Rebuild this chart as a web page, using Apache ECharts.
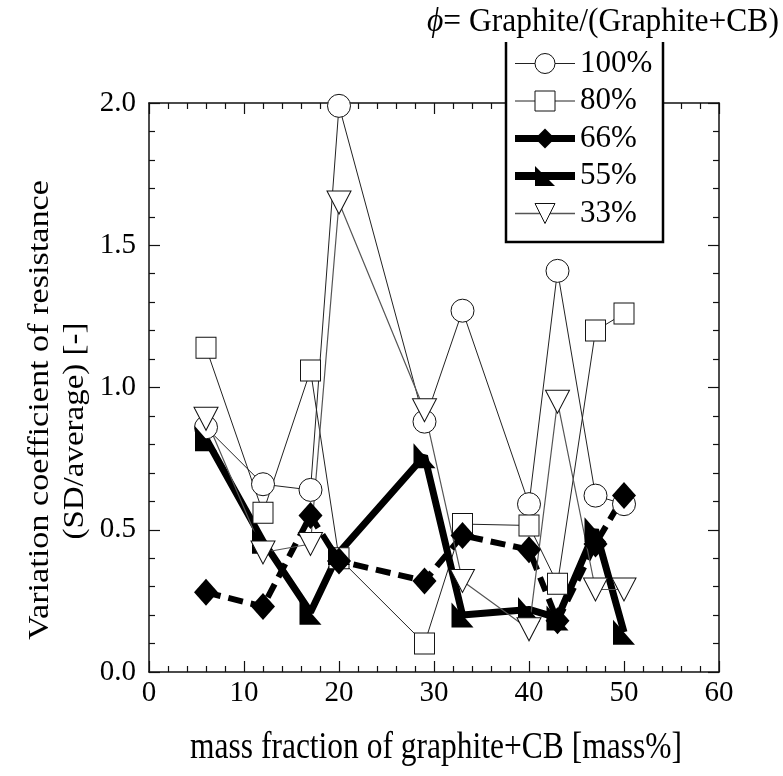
<!DOCTYPE html>
<html>
<head>
<meta charset="utf-8">
<script src="https://cdn.jsdelivr.net/npm/echarts@6/dist/echarts.min.js"></script>
<style>html,body{margin:0;padding:0;background:#fff}#c{width:783px;height:776px}</style>
</head>
<body>
<div id="c"></div>
<script>
const xVals = [6, 12, 17, 20, 29, 33, 40, 43, 47, 50];
const p100 = [0.86, 0.66, 0.64, 1.99, 0.88, 1.27, 0.59, 1.41, 0.62, 0.59];
const p80  = [1.14, 0.56, 1.06, 0.40, 0.10, 0.52, 0.515, 0.31, 1.20, 1.26];
const p66  = [0.28, 0.23, 0.55, 0.39, 0.32, 0.48, 0.43, 0.18, 0.45, 0.62];
const p55  = [0.82, 0.46, 0.21, 0.42, 0.76, 0.20, 0.22, 0.19, 0.50, 0.14];
const p33  = [0.89, 0.42, 0.45, 1.65, 0.92, 0.32, 0.15, 0.95, 0.29, 0.29];
const seriesNames = ['100%', '80%', '66%', '55%', '33%'];
const xTitle = 'mass fraction of graphite+CB [mass%]';
const yTitle1 = 'Variation coefficient of resistance';
const yTitle2 = '(SD/average) [-]';
const legendTitleSym = 'ϕ';
const legendTitleText = '= Graphite/(Graphite+CB)';

const FONT = "'Liberation Serif', 'Times New Roman', serif";
const pairs = arr => xVals.map((x, i) => [x, arr[i]]);
const tri55 = 'path://M0,0L0,10L10,10Z';

function axisCommon(showLabel, pos) {
  return {
    type: 'value', position: pos,
    axisLine: { show: true, onZero: false, lineStyle: { color: '#111', width: 1.5 } },
    axisTick: { show: true, inside: true, length: 11, lineStyle: { color: '#111', width: 1.2 } },
    minorTick: { show: true, splitNumber: 5, length: 6, lineStyle: { color: '#111', width: 1.2 } },
    splitLine: { show: false },
    axisLabel: { show: showLabel, color: '#000', fontSize: 29, fontFamily: FONT }
  };
}

const chart = echarts.init(document.getElementById('c'), null, { renderer: 'canvas' });
const xa0 = Object.assign(axisCommon(true, 'bottom'), { min: 0, max: 60, interval: 10 });
xa0.axisLabel.margin = 7;
const xa1 = Object.assign(axisCommon(false, 'top'), { min: 0, max: 60, interval: 10 });
const ya0 = Object.assign(axisCommon(true, 'left'), { min: 0, max: 2, interval: 0.5 });
ya0.axisLabel.formatter = v => v.toFixed(1);
ya0.axisLabel.margin = 13;
const ya1 = Object.assign(axisCommon(false, 'right'), { min: 0, max: 2, interval: 0.5 });

const option = {
  backgroundColor: '#fff',
  animation: false,
  grid: { left: 149, right: 64, top: 103, bottom: 104 },
  xAxis: [xa0, xa1],
  yAxis: [ya0, ya1],
  legend: {
    orient: 'vertical', left: 511, top: 48, padding: 0,
    itemWidth: 60, itemHeight: 25, itemGap: 6.5,
    textStyle: { fontFamily: FONT, fontSize: 31, color: '#000', lineHeight: 31 },
    data: [
      { name: '100%', lineStyle: { width: 1, color: '#222' }, itemStyle: { borderWidth: 1, borderColor: '#111', color: '#fff' } },
      { name: '80%', lineStyle: { width: 1, color: '#222' }, itemStyle: { borderWidth: 1, borderColor: '#111', color: '#fff' } },
      { name: '66%', lineStyle: { width: 7, color: '#000', type: 'solid' }, itemStyle: { borderWidth: 0, color: '#000' } },
      { name: '55%', lineStyle: { width: 8, color: '#000' }, itemStyle: { borderWidth: 0, color: '#000' } },
      { name: '33%', lineStyle: { width: 1.3, color: '#555' }, itemStyle: { borderWidth: 1, borderColor: '#111', color: '#fff' } }
    ]
  },
  graphic: [
    { type: 'rect', z: 3, shape: { x: 506, y: 40, width: 157, height: 202 }, style: { fill: '#fff', stroke: null } },
    { type: 'polyline', z: 3, shape: { points: [[506, 42], [506, 242], [663, 242], [663, 42]] }, style: { stroke: '#000', lineWidth: 2.5, fill: null } },
    { type: 'text', z: 5, x: 427, y: 22, scaleY: 1.05,
      style: { text: '{i|' + legendTitleSym + '}{n|' + legendTitleText + '}', textAlign: 'left', textVerticalAlign: 'middle',
        rich: { i: { font: 'italic 31.5px ' + FONT, fill: '#000' }, n: { font: '31.5px ' + FONT, fill: '#000' } } } },
    { type: 'text', z: 5, x: 436, y: 748, scaleY: 1.2, style: { text: xTitle, font: '31.5px ' + FONT, fill: '#000', textAlign: 'center', textVerticalAlign: 'middle' } },
    { type: 'text', z: 5, x: 40, y: 410, rotation: Math.PI / 2, scaleX: 1.14, style: { text: yTitle1, font: '30px ' + FONT, fill: '#000', textAlign: 'center', textVerticalAlign: 'middle' } },
    { type: 'text', z: 5, x: 75, y: 431, rotation: Math.PI / 2, scaleX: 1.1, style: { text: yTitle2, font: '30px ' + FONT, fill: '#000', textAlign: 'center', textVerticalAlign: 'middle' } }
  ],
  series: [
    { name: seriesNames[0], type: 'line', data: pairs(p100), symbol: 'circle', symbolSize: 23,
      lineStyle: { color: '#222', width: 1 }, itemStyle: { color: '#fff', borderColor: '#111', borderWidth: 1 } },
    { name: seriesNames[1], type: 'line', data: pairs(p80), symbol: 'rect', symbolSize: [20, 21],
      lineStyle: { color: '#222', width: 1 }, itemStyle: { color: '#fff', borderColor: '#111', borderWidth: 1 } },
    { name: seriesNames[2], type: 'line', data: pairs(p66), symbol: 'diamond', symbolSize: [24, 27],
      lineStyle: { color: '#000', width: 6, type: [15, 8] }, itemStyle: { color: '#000', borderWidth: 0 } },
    { name: seriesNames[3], type: 'line', data: pairs(p55), symbol: tri55, symbolSize: [22, 25],
      lineStyle: { color: '#000', width: 7 }, itemStyle: { color: '#000', borderWidth: 0 } },
    { name: seriesNames[4], type: 'line', data: pairs(p33), symbol: 'triangle', symbolRotate: 180, symbolSize: [24, 23],
      lineStyle: { color: '#555', width: 1.2 }, itemStyle: { color: '#fff', borderColor: '#111', borderWidth: 1 } }
  ]
};
chart.setOption(option);
</script>
</body>
</html>
